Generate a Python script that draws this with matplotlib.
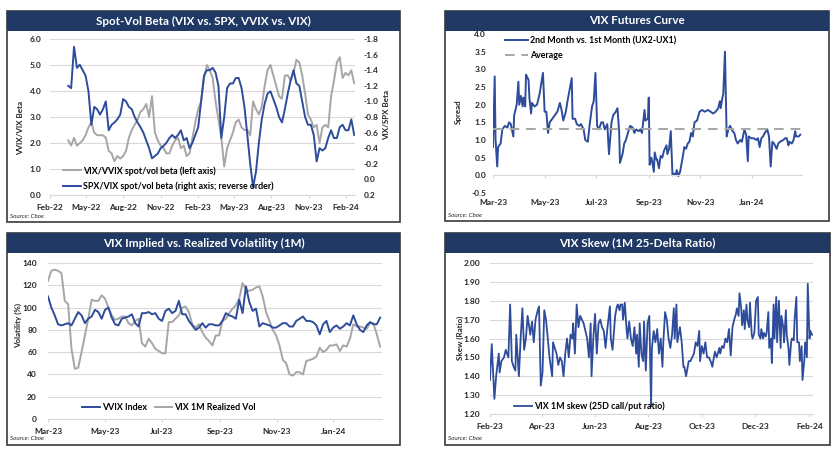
import numpy as np
import pandas as pd
import matplotlib
matplotlib.use("Agg")
import matplotlib.pyplot as plt
import matplotlib.dates as mdates
from matplotlib import patches
from matplotlib.ticker import FormatStrFormatter, MultipleLocator

plt.rcParams["font.family"] = ["Lato", "DejaVu Sans"]
plt.rcParams["font.weight"] = "bold"
plt.rcParams["axes.unicode_minus"] = False

W, H = 840, 450
DPI = 100

NAVY = "#1F3864"
BLUE = "#2E4C9C"
GRAY = "#A6A6A6"
GRID = "#D9D9D9"
TXT = "#262626"
TICK_FS = 6

# ---- Spot-Vol Beta (weekly reads, 2022-03-18 .. 2024-02-21)
beta_vvix = [2.1, 1.9, 2.2, 1.9, 2.0, 2.1, 2.3, 2.6, 2.8, 2.4,
             2.3, 2.3, 2.3, 2.2, 1.7, 1.6, 1.3, 1.5, 1.4, 1.5,
             1.7, 2.2, 2.5, 2.7, 2.9, 3.2, 3.3, 3.5, 3.0, 3.8,
             2.4, 2.1, 1.9, 1.8, 1.6, 1.6, 1.9, 2.1, 2.2, 1.8,
             1.9, 1.5, 1.6, 2.2, 2.8, 3.3, 3.6, 4.5, 5.0, 4.8,
             4.5, 3.6, 2.9, 2.2, 1.1, 1.8, 2.1, 2.4, 2.8, 2.9,
             2.6, 2.5, 2.5, 2.3, 3.6, 3.3, 3.1, 3.4, 4.2, 4.8,
             5.0, 4.6, 4.2, 3.8, 3.7, 4.6, 4.6, 4.4, 4.7, 5.2,
             5.1, 4.6, 3.9, 3.1, 2.9, 2.6, 2.7, 2.0, 2.6, 2.7,
             2.6, 3.8, 4.4, 5.1, 5.3, 4.5, 4.7, 4.6, 4.8, 4.3]
beta_spx = [-1.20, -1.17, -1.70, -1.43, -1.47, -1.40, -1.33, -1.13, -0.70, -0.93,
            -0.90, -0.83, -0.90, -1.00, -0.63, -0.70, -0.73, -0.77, -0.83, -1.03,
            -1.00, -0.93, -0.90, -0.80, -0.73, -0.67, -0.60, -0.50, -0.40, -0.27,
            -0.30, -0.33, -0.40, -0.43, -0.47, -0.53, -0.57, -0.53, -0.57, -0.63,
            -0.50, -0.53, -0.40, -0.47, -0.57, -0.67, -1.00, -1.33, -1.40, -1.40,
            -1.43, -1.37, -1.20, -0.53, -0.80, -1.17, -1.23, -1.23, -1.30, -1.30,
            -1.17, -0.93, -0.57, -0.20, 0.10, -0.10, -0.47, -0.77, -0.97, -1.10,
            -1.13, -1.03, -0.93, -0.80, -0.73, -0.90, -1.10, -1.27, -1.40, -1.23,
            -1.20, -1.00, -0.80, -0.70, -0.70, -0.57, -0.23, -0.40, -0.37, -0.40,
            -0.53, -0.63, -0.53, -0.53, -0.67, -0.70, -0.63, -0.63, -0.77, -0.57]
beta_dates = pd.date_range("2022-03-18", "2024-02-21", periods=len(beta_spx))

# ---- VIX futures curve: UX2-UX1 spread, days after 2023-03-01
fut_day = [0, 2, 3, 5, 6, 9, 11, 14, 17, 19, 21, 24, 25, 28, 30, 31, 33, 35, 36, 38,
           39, 42, 43, 45, 46, 49, 52, 55, 57, 59, 61, 63, 65, 67, 70, 73, 76, 79, 81, 83,
           86, 88, 91, 93, 94, 97, 99, 102, 104, 107, 109, 112, 114, 117, 119, 121, 123, 125, 128, 130,
           132, 135, 137, 140, 142, 145, 147, 149, 150, 153, 155, 157, 160, 162, 165, 167, 169, 172, 174, 176,
           179, 180, 183, 184, 185, 187, 188, 190, 191, 193, 194, 196, 198, 200, 202, 205, 206, 208, 210, 212,
           214, 216, 217, 219, 221, 224, 226, 228, 230, 232, 234, 236, 238, 241, 244, 247, 250, 254, 257, 260,
           263, 266, 268, 269, 271, 272, 274, 276, 278, 280, 283, 285, 287, 289, 292, 294, 297, 299, 301, 302,
           305, 308, 311, 313, 315, 317, 319, 321, 324, 326, 328, 330, 332, 335, 337, 339, 343, 345, 347, 349,
           350, 353, 355, 357, 358, 361, 363]
fut_spread = [0.8, 2.8, 1.0, 0.25, 0.8, 0.9, 1.3, 1.4, 1.35, 1.5, 1.45, 1.1, 1.7, 2.0, 2.65, 2.0, 2.25, 1.95, 2.2, 1.95,
              2.85, 2.7, 2.2, 1.75, 2.05, 1.95, 2.0, 2.3, 2.6, 2.9, 1.8, 1.8, 1.2, 1.5, 1.6, 1.7, 1.8, 2.05, 1.85, 1.55,
              1.8, 2.1, 2.5, 2.75, 1.6, 1.6, 1.45, 1.4, 1.45, 1.3, 1.0, 0.95, 1.4, 1.95, 2.1, 2.9, 1.4, 1.3, 1.5, 1.5,
              1.3, 1.45, 0.6, 1.5, 1.7, 1.8, 1.9, 1.25, 0.35, 0.6, 0.9, 1.0, 1.25, 1.4, 1.35, 1.2, 1.3, 1.25, 1.3, 1.2,
              1.85, 1.55, 1.6, 2.2, 0.3, 0.5, 0.4, 0.1, 0.65, 0.45, 0.45, 0.2, 0.55, 0.5, 0.7, 0.85, 0.6, 0.75, 1.25, 0.0,
              0.05, 0.0, 0.15, -0.02, 0.1, 0.5, 0.8, 0.75, 0.9, 0.95, 1.2, 1.1, 1.5, 1.55, 1.8, 1.85, 1.8, 1.85, 1.8, 1.75,
              1.8, 1.9, 2.1, 1.9, 2.2, 2.3, 3.5, 1.1, 1.3, 1.4, 1.25, 1.2, 1.0, 0.9, 1.0, 0.95, 1.3, 1.15, 0.4, 1.1,
              1.05, 1.05, 1.0, 1.05, 0.8, 1.05, 1.1, 1.2, 1.3, 1.1, 0.25, 0.95, 0.9, 0.75, 0.9, 0.95, 1.0, 1.05, 1.05, 0.85,
              0.95, 0.9, 1.0, 1.25, 1.1, 1.1, 1.15]
fut_avg = 1.3
fut_dates = pd.Timestamp("2023-03-01") + pd.to_timedelta(fut_day, unit="D")

# ---- VVIX vs realized vol (reads every ~3.6 days, 2023-03-01 .. 2024-02-20)
vvix = [110, 100, 93, 85, 84, 85, 86, 84, 90, 96,
        93, 86, 90, 92, 98, 96, 90, 98, 100, 91,
        85, 84, 90, 91, 92, 94, 86, 83, 95, 95,
        96, 94, 95, 90, 88, 97, 99, 95, 97, 106,
        94, 94, 88, 84, 80, 82, 86, 82, 85, 85,
        84, 84, 88, 95, 93, 92, 90, 107, 95, 119,
        105, 97, 99, 83, 86, 85, 84, 82, 82, 84,
        86, 86, 83, 83, 88, 90, 92, 88, 88, 87,
        84, 76, 85, 88, 78, 82, 84, 81, 83, 86,
        84, 93, 85, 80, 78, 84, 87, 85, 85, 91]
rvol = [124, 133, 134, 133, 131, 106, 103, 63, 45, 46,
        60, 75, 90, 107, 106, 106, 111, 108, 100, 93,
        89, 90, 92, 92, 86, 84, 88, 90, 68, 65,
        72, 68, 63, 61, 59, 59, 87, 87, 90, 93,
        100, 101, 96, 85, 82, 85, 78, 73, 70, 66,
        75, 75, 88, 90, 95, 99, 102, 108, 122, 116,
        115, 116, 118, 119, 110, 96, 88, 80, 75, 66,
        53, 50, 40, 39, 42, 42, 40, 52, 53, 54,
        56, 64, 60, 62, 66, 66, 67, 61, 66, 65,
        72, 85, 83, 83, 82, 81, 86, 86, 76, 65]
vol_dates = pd.date_range("2023-03-01", "2024-02-20", periods=len(vvix))

# ---- VIX skew, days after 2023-02-01
skew_day = [0, 2, 5, 7, 10, 11, 13, 16, 18, 21, 23, 25, 27, 29, 30, 33, 35, 37, 39, 41,
            43, 46, 48, 50, 52, 54, 56, 58, 60, 62, 64, 66, 68, 71, 72, 74, 76, 78, 80, 82,
            84, 86, 88, 90, 92, 94, 95, 97, 99, 101, 103, 105, 107, 110, 111, 113, 115, 116, 118, 120,
            122, 124, 126, 128, 130, 132, 134, 137, 138, 140, 143, 145, 146, 148, 149, 151, 152, 154, 156, 157,
            159, 161, 163, 165, 167, 168, 170, 171, 173, 175, 176, 178, 180, 182, 184, 185, 187, 189, 191, 193,
            195, 197, 198, 200, 202, 204, 206, 208, 210, 211, 213, 214, 217, 219, 221, 222, 224, 227, 229, 231,
            233, 235, 237, 239, 240, 242, 244, 246, 248, 250, 252, 254, 255, 257, 259, 262, 263, 265, 267, 269,
            271, 273, 275, 277, 279, 281, 282, 284, 285, 287, 288, 290, 291, 293, 294, 296, 297, 299, 300, 302,
            304, 306, 307, 309, 310, 312, 313, 315, 316, 318, 319, 321, 322, 324, 325, 327, 328, 330, 332, 333,
            335, 336, 338, 339, 341, 342, 344, 345, 347, 348, 350, 351, 353, 354, 356, 357, 359, 360, 362, 363,
            365, 366, 368]
skew = [1.38, 1.57, 1.28, 1.40, 1.52, 1.42, 1.48, 1.50, 1.54, 1.50, 1.78, 1.48, 1.45, 1.43, 1.62, 1.40, 1.60, 1.76, 1.54, 1.60,
        1.72, 1.62, 1.69, 1.58, 1.70, 1.74, 1.77, 1.35, 1.42, 1.75, 1.70, 1.60, 1.50, 1.40, 1.58, 1.55, 1.52, 1.46, 1.50, 1.48,
        1.40, 1.52, 1.60, 1.50, 1.62, 1.60, 1.68, 1.52, 1.78, 1.66, 1.72, 1.70, 1.68, 1.62, 1.60, 1.50, 1.68, 1.40, 1.60, 1.73,
        1.52, 1.68, 1.70, 1.66, 1.64, 1.55, 1.65, 1.77, 1.60, 1.54, 1.72, 1.77, 1.78, 1.75, 1.78, 1.78, 1.70, 1.79, 1.65, 1.60,
        1.69, 1.60, 1.56, 1.66, 1.52, 1.62, 1.45, 1.68, 1.52, 1.48, 1.69, 1.43, 1.68, 1.72, 1.24, 1.55, 1.64, 1.58, 1.65, 1.52,
        1.60, 1.45, 1.58, 1.74, 1.70, 1.60, 1.55, 1.62, 1.76, 1.60, 1.78, 1.58, 1.66, 1.58, 1.45, 1.45, 1.40, 1.48, 1.48, 1.50,
        1.52, 1.58, 1.56, 1.64, 1.48, 1.56, 1.52, 1.58, 1.50, 1.50, 1.48, 1.45, 1.48, 1.53, 1.50, 1.55, 1.52, 1.56, 1.55, 1.60,
        1.58, 1.65, 1.51, 1.66, 1.70, 1.73, 1.76, 1.72, 1.84, 1.76, 1.67, 1.75, 1.65, 1.78, 1.70, 1.66, 1.79, 1.62, 1.60, 1.63,
        1.80, 1.82, 1.62, 1.60, 1.65, 1.60, 1.63, 1.61, 1.63, 1.74, 1.55, 1.60, 1.47, 1.78, 1.60, 1.82, 1.58, 1.80, 1.55, 1.72,
        1.66, 1.58, 1.75, 1.62, 1.55, 1.46, 1.58, 1.60, 1.59, 1.70, 1.82, 1.58, 1.58, 1.48, 1.56, 1.38, 1.48, 1.58, 1.50, 1.89,
        1.60, 1.64, 1.62]
skew_dates = pd.Timestamp("2023-02-01") + pd.to_timedelta(skew_day, unit="D")


fig = plt.figure(figsize=(W / DPI, H / DPI), dpi=DPI)
fig.patch.set_facecolor("white")


def fx(x):
    return x / W


def fy(y):
    return 1 - y / H


def add_ax(x0, y0, x1, y1):
    return fig.add_axes([fx(x0), fy(y1), (x1 - x0) / W, (y1 - y0) / H])


def panel(x0, y0, x1, y1, title):
    # 枠 + タイトルバー
    fig.patches.append(patches.Rectangle((fx(x0), fy(y1)), (x1 - x0) / W, (y1 - y0) / H,
                                         transform=fig.transFigure, fill=False,
                                         edgecolor="#3A3A3A", lw=1.2, zorder=0))
    fig.patches.append(patches.Rectangle((fx(x0), fy(y0 + 20)), (x1 - x0) / W, 20 / H,
                                         transform=fig.transFigure, facecolor=NAVY,
                                         edgecolor="none", zorder=0))
    fig.text(fx((x0 + x1) / 2), fy(y0 + 10), title, color="white", fontsize=8.4,
             ha="center", va="center")
    fig.text(fx(x0 + 3), fy(y1 - 6), "Source: Cboe", fontsize=4.5, style="italic",
             fontweight="normal", color=TXT, ha="left", va="center")


def style(ax, grid=True, ypad=5):
    for s in ["top", "right", "left"]:
        ax.spines[s].set_visible(False)
    ax.spines["bottom"].set_color(GRID)
    ax.spines["bottom"].set_linewidth(0.8)
    ax.tick_params(axis="y", length=0, labelsize=TICK_FS, labelcolor=TXT, pad=ypad)
    ax.tick_params(axis="x", length=2.5, width=0.8, color=GRID, labelsize=TICK_FS,
                   labelcolor=TXT, pad=4)
    if grid:
        ax.yaxis.grid(True, color=GRID, lw=0.8)
        ax.set_axisbelow(True)
    ax.xaxis.set_major_formatter(mdates.DateFormatter("%b-%y"))


def vlabel(x, y, s):
    fig.text(fx(x), fy(y), s, rotation=90, fontsize=5.8, color=TXT,
             ha="center", va="center")


# ===== Panel 1: Spot-Vol Beta
panel(7, 11, 400, 222, "Spot-Vol Beta (VIX vs. SPX, VVIX vs. VIX)")
ax1 = add_ax(50, 39, 355, 195)
l1, = ax1.plot(beta_dates, beta_vvix, color=GRAY, lw=1.4)
ax1.set_ylim(0, 6)
ax1.yaxis.set_major_locator(MultipleLocator(1))
ax1.yaxis.set_major_formatter(FormatStrFormatter("%.1f"))
ax1.set_xlim(pd.Timestamp("2022-02-01"), pd.Timestamp("2024-02-23"))
ax1.xaxis.set_major_locator(mdates.MonthLocator(bymonth=[2, 5, 8, 11]))
style(ax1, ypad=6)
ax1b = ax1.twinx()
l2, = ax1b.plot(beta_dates, beta_spx, color=BLUE, lw=1.4)
ax1b.set_ylim(0.2, -1.8)
ax1b.yaxis.set_major_locator(MultipleLocator(0.2))
ax1b.yaxis.set_major_formatter(FormatStrFormatter("%.1f"))
for s in ["top", "right", "left", "bottom"]:
    ax1b.spines[s].set_visible(False)
ax1b.tick_params(axis="y", length=0, labelsize=TICK_FS, labelcolor=TXT, pad=6)
vlabel(21, 128, "VVIX/VIX Beta")
vlabel(387, 115, "VIX/SPX Beta")
fig.legend([l1, l2], ["VIX/VVIX spot/vol beta (left axis)",
                      "SPX/VIX spot/vol beta (right axis; reverse order)"],
           loc="upper left", bbox_to_anchor=(fx(63), fy(166)), frameon=False,
           fontsize=6.4, handlelength=2.0, handletextpad=0.2, labelspacing=0.65,
           borderpad=0, borderaxespad=0)

# ===== Panel 2: VIX Futures Curve
panel(445, 11, 829, 221, "VIX Futures Curve")
ax2 = add_ax(493, 34, 802, 193)
l3, = ax2.plot(fut_dates, fut_spread, color=BLUE, lw=1.4)
l4 = ax2.axhline(fut_avg, color=GRAY, lw=1.4, ls=(0, (5, 3.5)))
ax2.set_ylim(-0.5, 4.0)
ax2.yaxis.set_major_locator(MultipleLocator(0.5))
ax2.yaxis.set_major_formatter(FormatStrFormatter("%.1f"))
ax2.set_xlim(pd.Timestamp("2023-03-01"), pd.Timestamp("2024-02-29"))
ax2.xaxis.set_major_locator(mdates.MonthLocator(bymonth=[1, 3, 5, 7, 9, 11]))
style(ax2, grid=False)
ax2.spines["bottom"].set_position(("data", 0))
ax2.tick_params(axis="x", pad=14.5)
vlabel(458, 112, "Spread")
fig.legend([l3, l4], ["2nd Month vs. 1st Month (UX2-UX1)", "Average"],
           loc="upper left", bbox_to_anchor=(fx(505), fy(36)), frameon=False,
           fontsize=6.4, handlelength=2.6, handletextpad=0.25, labelspacing=0.65,
           borderpad=0, borderaxespad=0)

# ===== Panel 3: VIX Implied vs. Realized
panel(7, 233, 400, 445, "VIX Implied vs. Realized Volatility (1M)")
ax3 = add_ax(48, 263, 382, 419)
l5, = ax3.plot(vol_dates, rvol, color=GRAY, lw=1.4)
l6, = ax3.plot(vol_dates, vvix, color=BLUE, lw=1.4)
ax3.set_ylim(0, 140)
ax3.yaxis.set_major_locator(MultipleLocator(20))
ax3.set_xlim(pd.Timestamp("2023-03-01"), pd.Timestamp("2024-02-22"))
ax3.xaxis.set_major_locator(mdates.MonthLocator(bymonth=[1, 3, 5, 7, 9, 11]))
style(ax3, ypad=8)
vlabel(18, 325, "Volatility (%)")
fig.legend([l6, l5], ["VVIX Index", "VIX 1M Realized Vol"], ncol=2,
           loc="center left", bbox_to_anchor=(fx(82), fy(408)), frameon=False,
           fontsize=6.4, handlelength=2.0, handletextpad=0.2, columnspacing=0.9,
           borderpad=0, borderaxespad=0)

# ===== Panel 4: VIX Skew
panel(445, 233, 830, 445, "VIX Skew (1M 25-Delta Ratio)")
ax4 = add_ax(490, 263, 813, 414)
l7, = ax4.plot(skew_dates, skew, color=BLUE, lw=1.3)
ax4.set_ylim(1.2, 2.0)
ax4.yaxis.set_major_locator(MultipleLocator(0.1))
ax4.yaxis.set_major_formatter(FormatStrFormatter("%.2f"))
ax4.set_xlim(pd.Timestamp("2023-02-01"), pd.Timestamp("2024-02-05"))
ax4.xaxis.set_major_locator(mdates.MonthLocator(bymonth=[2, 4, 6, 8, 10, 12]))
style(ax4, ypad=7)
vlabel(460, 338, "Skew (Ratio)")
fig.legend([l7], ["VIX 1M skew (25D call/put ratio)"],
           loc="center left", bbox_to_anchor=(fx(514), fy(406)), frameon=False,
           fontsize=6.4, handlelength=2.0, handletextpad=0.2,
           borderpad=0, borderaxespad=0)

fig.savefig("out.png", dpi=DPI, facecolor="white")
